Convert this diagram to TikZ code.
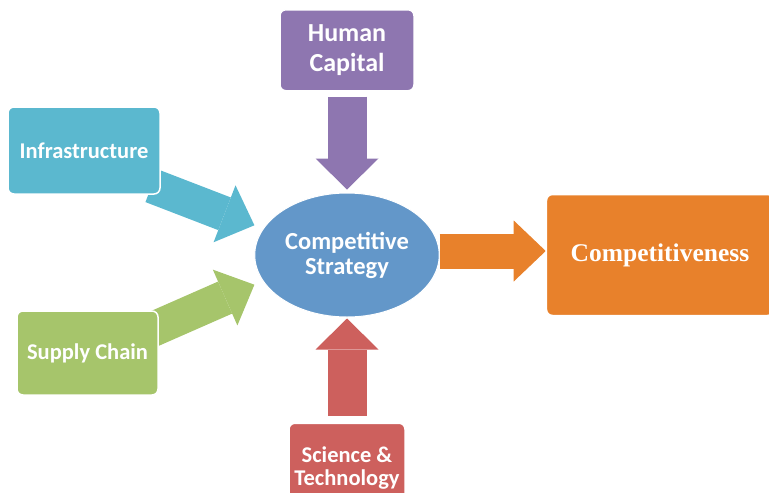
\documentclass[tikz,border=0pt]{standalone}
\usepackage{fontspec}
\setmainfont{Carlito}
\newfontfamily\titlefont{Liberation Serif}
\usetikzlibrary{arrows.meta,positioning,shapes.geometric,backgrounds}
\definecolor{infracol}{HTML}{5BB8CF}
\definecolor{supplycol}{HTML}{A6C56B}
\definecolor{humancol}{HTML}{8E76B0}
\definecolor{sciencecol}{HTML}{CD605D}
\definecolor{stratcol}{HTML}{6397C9}
\definecolor{compcol}{HTML}{E8812B}
\tikzset{
  box/.style={draw=white, line width=1.5pt, rounded corners=6pt, align=center, text=white, font=\bfseries\fontsize{22.5}{23}\selectfont},
  flow/.style={line width=35pt, -{Triangle[length=32pt,width=61pt,line width=0pt]}},
  flowv/.style={line width=39pt, -{Triangle[length=31pt,width=63pt,line width=0pt]}}
}
\begin{document}
\begin{tikzpicture}[x=1pt, y=-1pt]
\useasboundingbox (0,0) rectangle (769,493);
\clip (0,0) rectangle (769,493);

% Strategy (centre)
\node[ellipse, draw=white, line width=1pt, fill=stratcol, text=white, align=center, minimum width=180pt, minimum height=124pt, font=\bfseries\fontsize{24.5}{25}\selectfont] (strategy) at (347,255) {Competitive\\Strategy};

% Inputs
\node[box, fill=humancol, minimum width=134pt, minimum height=81pt, above=101pt of strategy, font=\bfseries\fontsize{26}{30}\selectfont] (human) {Human\\Capital};
\node[box, fill=sciencecol, minimum width=116pt, minimum height=90pt, below=105pt of strategy] (science) {Science \&\\Technology};
\node[box, fill=infracol, minimum width=152pt, minimum height=87pt] (infra) at (84,150.5) {Infrastructure};
\node[box, fill=supplycol, minimum width=141pt, minimum height=84pt] (supply) at (87.5,353) {Supply Chain};

% Output
\node[box, fill=compcol, minimum width=227pt, minimum height=121pt, right=106pt of strategy, font=\titlefont\bfseries\fontsize{25.5}{26}\selectfont] (comp) {Competitiveness};

% Block arrows
\begin{scope}[on background layer]
\draw[flowv, humancol, shorten <=5pt, shorten >=3pt] (human) -- (strategy);
\draw[flowv, sciencecol, shorten <=7pt, shorten >=1pt] (science) -- (strategy);
\draw[flow, infracol] ([shift={(-9,-9)}]infra.south east) -- ([xshift=-11pt]strategy.160);
\draw[flow, supplycol] ([shift={(-8,20)}]supply.north east) -- ([xshift=-11pt]strategy.200);
\draw[flow, compcol] ([yshift=4pt]strategy.east) -- ([yshift=4pt]comp.west);
\end{scope}

\end{tikzpicture}
\end{document}
